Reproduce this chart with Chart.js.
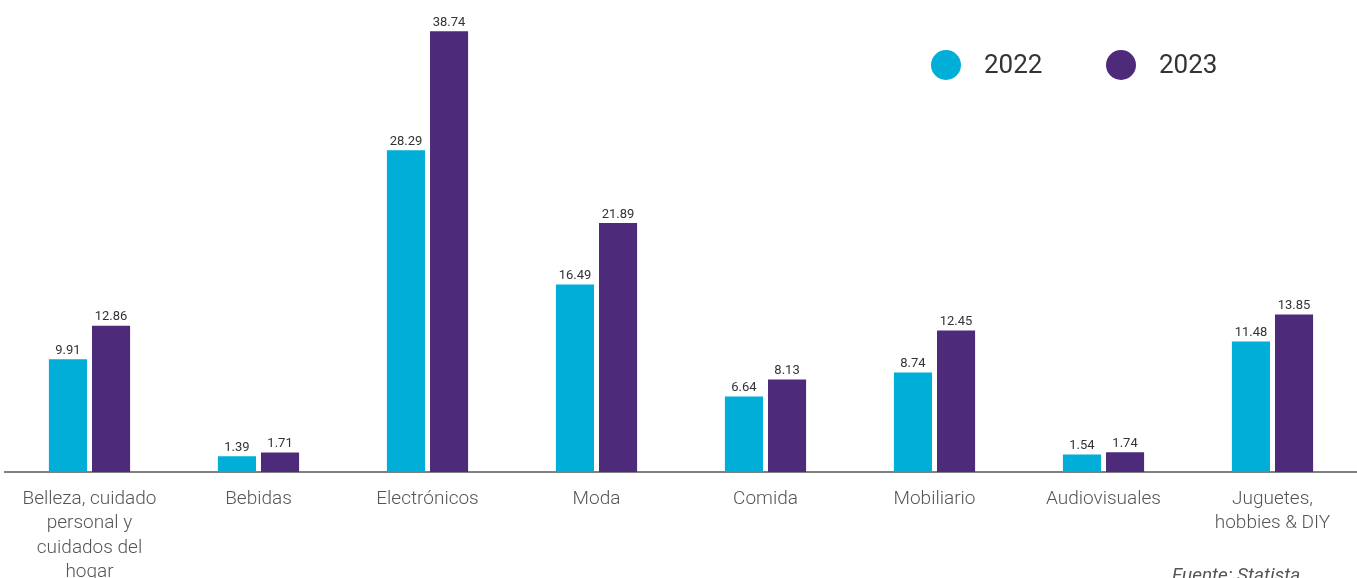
<!DOCTYPE html>
<html>
<head>
<meta charset="utf-8">
<script src="https://cdn.jsdelivr.net/npm/chart.js@4/dist/chart.umd.min.js"></script>
<style>
  html, body { margin: 0; padding: 0; background: #fff; overflow: hidden; }
  #wrap { position: relative; width: 1357px; height: 578px; }
  #source { position: absolute; left: 1172px; top: 563px; font: italic 19px Roboto, sans-serif; color: #555; }
</style>
</head>
<body>
<div id="wrap">
  <canvas id="myChart" width="1357" height="578"></canvas>
  <div id="source">Fuente: Statista</div>
</div>
<script>
// categories (multi-line labels as in the picture)
const categories = [
  ["Belleza, cuidado", "personal y", "cuidados del", "hogar"],
  "Bebidas",
  "Electrónicos",
  "Moda",
  "Comida",
  "Mobiliario",
  "Audiovisuales",
  ["Juguetes,", "hobbies & DIY"]
];
const values2022 = [9.91, 1.39, 28.29, 16.49, 6.64, 8.74, 1.54, 11.48];
const values2023 = [12.86, 1.71, 38.74, 21.89, 8.13, 12.45, 1.74, 13.85];
const seriesLabels = ["2022", "2023"];
const seriesColors = ["#00aed7", "#4e2a7b"];

// values printed above each bar
const valueLabels = {
  id: 'valueLabels',
  afterDatasetsDraw(chart) {
    const ctx = chart.ctx;
    ctx.save();
    ctx.font = '13px Roboto, sans-serif';
    ctx.fillStyle = '#333';
    ctx.textAlign = 'center';
    ctx.textBaseline = 'bottom';
    chart.data.datasets.forEach((ds, i) => {
      chart.getDatasetMeta(i).data.forEach((bar, j) => {
        ctx.fillText(ds.data[j].toFixed(2), bar.x, bar.y - 2);
      });
    });
    ctx.restore();
  }
};

// round legend in the top right
const dotLegend = {
  id: 'dotLegend',
  afterDraw(chart) {
    const ctx = chart.ctx;
    const startX = [946, 1121];
    ctx.save();
    ctx.font = '26px Roboto, sans-serif';
    ctx.textBaseline = 'middle';
    ctx.textAlign = 'left';
    chart.data.datasets.forEach((ds, i) => {
      ctx.fillStyle = ds.backgroundColor;
      ctx.beginPath();
      ctx.arc(startX[i], 65, 15, 0, Math.PI * 2);
      ctx.fill();
      ctx.fillStyle = '#333';
      ctx.fillText(ds.label, startX[i] + 38, 66);
    });
    ctx.restore();
  }
};

new Chart(document.getElementById('myChart').getContext('2d'), {
  type: 'bar',
  data: {
    labels: categories,
    datasets: [{
      label: seriesLabels[0],
      data: values2022,
      backgroundColor: seriesColors[0],
      categoryPercentage: 0.51,
      barPercentage: 0.884
    }, {
      label: seriesLabels[1],
      data: values2023,
      backgroundColor: seriesColors[1],
      categoryPercentage: 0.51,
      barPercentage: 0.884
    }]
  },
  options: {
    responsive: false,
    animation: false,
    layout: { padding: { left: 5, right: 0, top: 17, bottom: 0 } },
    plugins: {
      legend: { display: false },
      tooltip: { enabled: false }
    },
    scales: {
      x: {
        grid: { display: false },
        border: { display: true, color: '#808080', width: 2 },
        afterFit(scale) { scale.height = 106; },
        ticks: {
          padding: 7,
          maxRotation: 0,
          autoSkip: false,
          color: '#555',
          font: { family: 'Roboto', size: 19, weight: 300, lineHeight: 1.28 }
        }
      },
      y: {
        display: false,
        min: 0,
        max: 40
      }
    }
  },
  plugins: [valueLabels, dotLegend]
});
</script>
</body>
</html>
